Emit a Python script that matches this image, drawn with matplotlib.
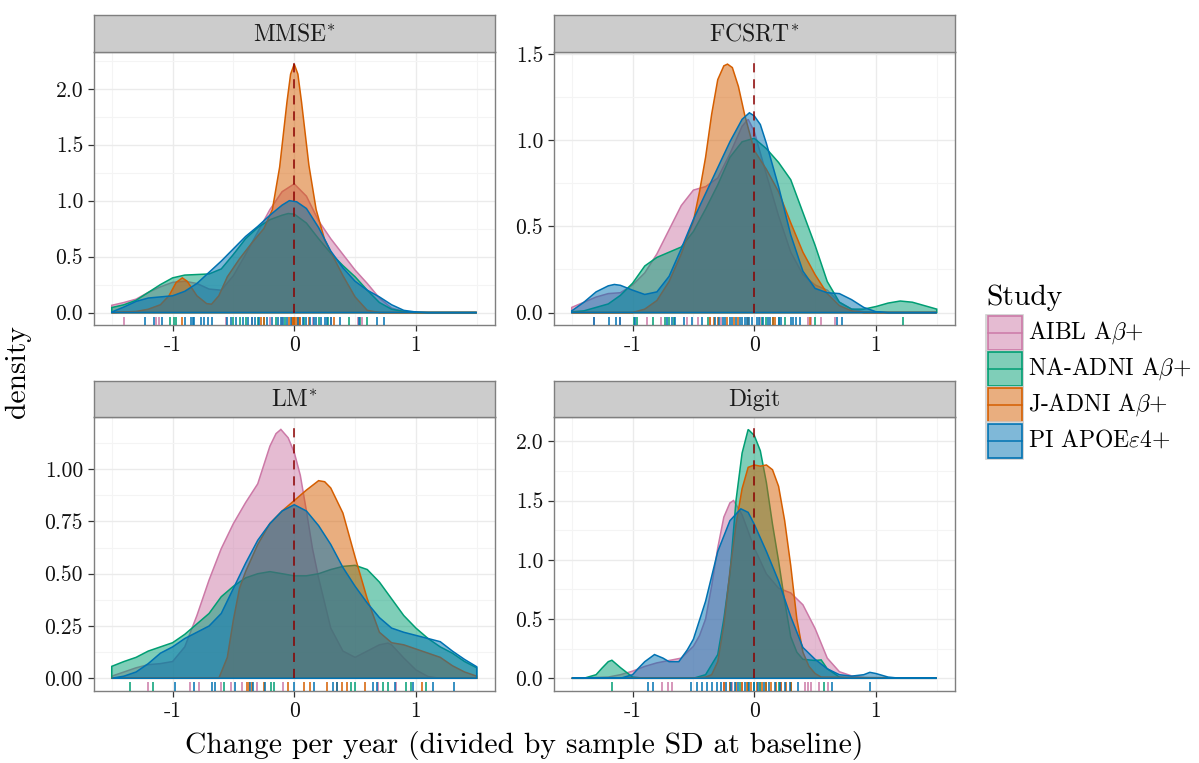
import numpy as np
import matplotlib
matplotlib.use('Agg')
import matplotlib.pyplot as plt
from matplotlib.patches import Rectangle
from matplotlib.lines import Line2D
from matplotlib.ticker import AutoMinorLocator
import matplotlib.transforms as mtransforms

plt.rcParams['font.family'] = 'serif'
plt.rcParams['font.serif'] = ['cmr10']
plt.rcParams['mathtext.fontset'] = 'cm'
plt.rcParams['axes.unicode_minus'] = False
plt.rcParams['axes.formatter.use_mathtext'] = True

# ---------------- data ----------------
studies = ['AIBL A$\\beta$$+$', 'NA-ADNI A$\\beta$$+$', 'J-ADNI A$\\beta$$+$', 'PI APOE$\\varepsilon$4$+$']
colors = ['#CC79A7', '#009E73', '#D55E00', '#0072B2']
panel_titles = ['$\\mathrm{MMSE}^{*}$', '$\\mathrm{FCSRT}^{*}$', '$\\mathrm{LM}^{*}$', 'Digit']
x_ticks = [-1, 0, 1]
x_ticklabels = ['-1', '0', '1']
mmse_yticks = [0.0, 0.5, 1.0, 1.5, 2.0]
fcsrt_yticks = [0.0, 0.5, 1.0, 1.5]
lm_yticks = [0.0, 0.25, 0.5, 0.75, 1.0]
digit_yticks = [0.0, 0.5, 1.0, 1.5, 2.0]
mmse_yticklabels = ['0.0', '0.5', '1.0', '1.5', '2.0']
fcsrt_yticklabels = ['0.0', '0.5', '1.0', '1.5']
lm_yticklabels = ['0.00', '0.25', '0.50', '0.75', '1.00']
digit_yticklabels = ['0.0', '0.5', '1.0', '1.5', '2.0']

# MMSE density curves
mmse_aibl_x = [-1.5,-1.4,-1.3,-1.2,-1.1,-1.0,-0.9,-0.8,-0.7,-0.6,-0.5,-0.4,-0.3,-0.2,-0.1,0.0,0.1,0.2,0.3,0.4,0.5,0.6,0.7,0.8,0.9,1.0,1.5]
mmse_aibl_y = [0.065,0.09,0.12,0.18,0.23,0.27,0.28,0.26,0.21,0.20,0.33,0.52,0.72,0.92,1.08,1.15,1.04,0.82,0.66,0.52,0.38,0.26,0.13,0.04,0.01,0.0,0.0]
mmse_nadni_x = [-1.5,-1.4,-1.3,-1.2,-1.1,-1.0,-0.9,-0.8,-0.7,-0.6,-0.5,-0.4,-0.3,-0.2,-0.1,-0.05,0.0,0.1,0.2,0.3,0.4,0.5,0.6,0.7,0.8,0.9,1.0,1.5]
mmse_nadni_y = [0.045,0.07,0.11,0.18,0.25,0.31,0.335,0.34,0.345,0.39,0.52,0.66,0.76,0.83,0.87,0.885,0.88,0.8,0.66,0.53,0.42,0.32,0.2,0.09,0.03,0.01,0.0,0.0]
mmse_jadni_x = [-1.5,-1.3,-1.2,-1.1,-1.03,-0.97,-0.92,-0.88,-0.8,-0.72,-0.68,-0.62,-0.55,-0.45,-0.35,-0.25,-0.18,-0.12,-0.06,-0.03,0.0,0.03,0.06,0.12,0.18,0.25,0.32,0.4,0.5,0.6,0.7,1.5]
mmse_jadni_y = [0.0,0.01,0.03,0.07,0.15,0.27,0.31,0.28,0.15,0.08,0.075,0.15,0.32,0.48,0.62,0.75,0.92,1.3,1.88,2.13,2.22,2.13,1.88,1.32,0.92,0.65,0.5,0.33,0.14,0.02,0.0,0.0]
mmse_pi_x = [-1.5,-1.4,-1.3,-1.2,-1.1,-1.0,-0.9,-0.8,-0.7,-0.6,-0.5,-0.4,-0.3,-0.2,-0.1,-0.04,0.02,0.1,0.2,0.3,0.4,0.5,0.6,0.7,0.8,0.9,1.0,1.1,1.5]
mmse_pi_y = [0.005,0.05,0.1,0.13,0.14,0.15,0.19,0.26,0.36,0.46,0.57,0.68,0.77,0.87,0.96,1.0,0.99,0.93,0.76,0.55,0.4,0.28,0.2,0.14,0.07,0.02,0.005,0.0,0.0]

# FCSRT density curves
fcsrt_aibl_x = [-1.5,-1.4,-1.3,-1.2,-1.1,-1.0,-0.9,-0.8,-0.7,-0.6,-0.5,-0.4,-0.3,-0.2,-0.1,-0.05,0.0,0.1,0.2,0.3,0.4,0.5,0.6,0.7,0.8,0.9,1.0,1.5]
fcsrt_aibl_y = [0.03,0.06,0.09,0.11,0.115,0.16,0.23,0.34,0.48,0.62,0.71,0.73,0.78,0.92,1.08,1.12,1.05,0.8,0.56,0.35,0.22,0.16,0.13,0.06,0.02,0.005,0.0,0.0]
fcsrt_nadni_x = [-1.5,-1.4,-1.3,-1.2,-1.1,-1.0,-0.9,-0.8,-0.7,-0.6,-0.5,-0.4,-0.3,-0.2,-0.1,0.0,0.1,0.2,0.3,0.4,0.5,0.6,0.7,0.8,0.9,1.0,1.1,1.2,1.3,1.4,1.5]
fcsrt_nadni_y = [0.005,0.01,0.03,0.05,0.1,0.17,0.27,0.32,0.35,0.38,0.47,0.6,0.74,0.9,0.99,1.01,0.95,0.87,0.77,0.58,0.39,0.18,0.06,0.02,0.02,0.035,0.055,0.067,0.06,0.04,0.02]
fcsrt_jadni_x = [-1.5,-1.0,-0.9,-0.8,-0.7,-0.6,-0.55,-0.5,-0.45,-0.4,-0.35,-0.3,-0.25,-0.22,-0.18,-0.13,-0.08,0.0,0.1,0.2,0.3,0.4,0.5,0.6,0.7,0.8,0.9,1.5]
fcsrt_jadni_y = [0.0,0.0,0.02,0.07,0.18,0.34,0.44,0.53,0.7,0.9,1.15,1.35,1.43,1.44,1.42,1.31,1.15,0.94,0.83,0.7,0.52,0.35,0.22,0.11,0.04,0.01,0.0,0.0]
fcsrt_pi_x = [-1.5,-1.4,-1.3,-1.2,-1.15,-1.1,-1.0,-0.9,-0.8,-0.7,-0.6,-0.5,-0.4,-0.3,-0.2,-0.1,-0.04,0.0,0.05,0.1,0.2,0.3,0.4,0.5,0.6,0.7,0.8,0.9,1.0,1.1,1.5]
fcsrt_pi_y = [0.01,0.06,0.12,0.155,0.163,0.158,0.13,0.105,0.12,0.21,0.37,0.54,0.69,0.84,0.99,1.12,1.158,1.14,1.09,0.98,0.73,0.45,0.24,0.14,0.115,0.11,0.075,0.03,0.005,0.0,0.0]

# LM density curves
lm_aibl_x = [-1.5,-1.4,-1.3,-1.2,-1.1,-1.0,-0.9,-0.8,-0.7,-0.6,-0.5,-0.4,-0.3,-0.2,-0.15,-0.11,-0.05,0.0,0.05,0.1,0.15,0.2,0.3,0.4,0.5,0.6,0.7,0.77,0.8,0.9,1.0,1.1,1.2,1.5]
lm_aibl_y = [0.01,0.03,0.05,0.065,0.07,0.08,0.15,0.3,0.47,0.62,0.74,0.84,0.93,1.11,1.17,1.19,1.15,1.08,0.97,0.8,0.62,0.48,0.24,0.13,0.1,0.13,0.16,0.168,0.16,0.097,0.04,0.008,0.0,0.0]
lm_nadni_x = [-1.5,-1.4,-1.3,-1.2,-1.1,-1.0,-0.9,-0.8,-0.7,-0.6,-0.5,-0.4,-0.3,-0.2,-0.1,0.0,0.1,0.2,0.3,0.4,0.5,0.6,0.7,0.8,0.9,1.0,1.1,1.2,1.3,1.4,1.5]
lm_nadni_y = [0.057,0.08,0.1,0.13,0.15,0.17,0.21,0.26,0.31,0.39,0.44,0.48,0.5,0.51,0.5,0.49,0.49,0.5,0.52,0.535,0.54,0.52,0.46,0.38,0.3,0.24,0.19,0.15,0.12,0.08,0.05]
lm_jadni_x = [-1.5,-0.62,-0.55,-0.5,-0.45,-0.4,-0.3,-0.2,-0.1,0.0,0.1,0.2,0.25,0.3,0.4,0.5,0.6,0.7,0.8,0.9,1.0,1.1,1.2,1.3,1.4,1.5]
lm_jadni_y = [0.0,0.0,0.1,0.28,0.43,0.51,0.64,0.74,0.8,0.85,0.9,0.945,0.94,0.91,0.79,0.58,0.38,0.22,0.17,0.16,0.14,0.12,0.1,0.06,0.03,0.01]
lm_pi_x = [-1.5,-1.4,-1.3,-1.2,-1.1,-1.0,-0.9,-0.8,-0.7,-0.6,-0.5,-0.4,-0.3,-0.2,-0.1,0.0,0.1,0.2,0.3,0.4,0.5,0.6,0.7,0.8,0.9,1.0,1.1,1.2,1.3,1.4,1.5]
lm_pi_y = [0.0,0.01,0.03,0.07,0.12,0.15,0.19,0.22,0.25,0.31,0.43,0.55,0.66,0.74,0.8,0.83,0.8,0.73,0.64,0.53,0.44,0.36,0.29,0.24,0.22,0.205,0.19,0.175,0.13,0.09,0.055]

# Digit density curves
digit_aibl_x = [-1.5,-1.2,-1.1,-1.0,-0.9,-0.8,-0.7,-0.6,-0.5,-0.45,-0.4,-0.35,-0.3,-0.25,-0.2,-0.17,-0.1,0.0,0.1,0.2,0.3,0.4,0.5,0.6,0.7,0.8,0.9,1.0,1.5]
digit_aibl_y = [0.0,0.01,0.03,0.06,0.1,0.13,0.15,0.17,0.27,0.36,0.5,0.78,1.1,1.36,1.48,1.5,1.38,1.1,0.88,0.76,0.72,0.62,0.42,0.17,0.055,0.02,0.005,0.0,0.0]
digit_nadni_x = [-1.5,-1.4,-1.3,-1.25,-1.2,-1.17,-1.1,-1.0,-0.9,-0.5,-0.4,-0.3,-0.25,-0.2,-0.15,-0.1,-0.05,0.0,0.05,0.1,0.15,0.2,0.25,0.3,0.35,0.4,0.5,0.55,0.6,0.7,0.8,1.5]
digit_nadni_y = [0.0,0.0,0.03,0.087,0.14,0.152,0.09,0.01,0.0,0.0,0.03,0.2,0.5,0.88,1.5,1.9,2.1,2.05,1.92,1.65,1.3,0.99,0.65,0.35,0.22,0.16,0.15,0.155,0.08,0.01,0.0,0.0]
digit_jadni_x = [-1.5,-0.5,-0.4,-0.35,-0.3,-0.25,-0.2,-0.15,-0.1,-0.05,0.0,0.05,0.1,0.15,0.2,0.25,0.3,0.35,0.4,0.45,0.5,0.55,1.5]
digit_jadni_y = [0.0,0.0,0.01,0.03,0.14,0.45,0.9,1.3,1.6,1.78,1.8,1.79,1.8,1.76,1.62,1.33,0.95,0.5,0.22,0.1,0.04,0.01,0.0]
digit_pi_x = [-1.5,-1.1,-1.0,-0.95,-0.9,-0.82,-0.75,-0.7,-0.62,-0.55,-0.5,-0.4,-0.3,-0.2,-0.11,-0.05,0.0,0.1,0.2,0.3,0.4,0.5,0.6,0.7,0.8,0.9,0.95,1.0,1.1,1.2,1.5]
digit_pi_y = [0.0,0.0,0.03,0.087,0.14,0.2,0.17,0.14,0.14,0.24,0.33,0.65,1.07,1.33,1.43,1.4,1.3,1.07,0.82,0.52,0.26,0.16,0.08,0.03,0.018,0.03,0.05,0.04,0.01,0.0,0.0]

# rug data (observed changes per subject)
mmse_aibl_rug = [-1.40,-1.14,-1.11,-0.56,-0.35,-0.2,-0.1,0.05,0.15,0.3,0.52,0.56]
mmse_nadni_rug = [-1.02,-0.99,-0.97,-0.5,-0.45,-0.4,-0.3,-0.25,-0.15,-0.08,0.0,0.08,0.2,0.28,0.45,0.54,0.6]
mmse_jadni_rug = [-0.92,-0.27,-0.25,-0.04,-0.02,-0.01,0.0,0.01,0.02,0.04,0.05,0.12,0.33]
mmse_pi_rug = [-1.23,-1.15,-1.09,-0.9,-0.85,-0.83,-0.82,-0.77,-0.74,-0.71,-0.68,-0.55,-0.52,-0.48,-0.42,-0.38,-0.35,-0.32,-0.29,-0.22,-0.18,-0.13,-0.11,-0.09,-0.06,-0.03,0.03,0.07,0.1,0.13,0.16,0.18,0.22,0.25,0.27,0.3,0.38,0.53,0.68,0.74]
fcsrt_aibl_rug = [-1.32,-1.10,-0.88,-0.77,-0.55,-0.46,-0.36,-0.27,0.05,0.44,0.47,0.55,0.66]
fcsrt_nadni_rug = [-0.99,-0.96,-0.83,-0.73,-0.7,-0.66,-0.38,0.06,0.1,0.15,0.2,0.25,0.5,1.22]
fcsrt_jadni_rug = [-0.36,-0.33,-0.3,-0.22,-0.17,-0.13,-0.05,0.15,0.17,0.46]
fcsrt_pi_rug = [-1.32,-1.19,-1.14,-1.10,-0.98,-0.72,-0.68,-0.65,-0.58,-0.51,-0.43,-0.32,-0.29,-0.26,-0.24,-0.2,-0.18,-0.15,-0.12,-0.1,-0.08,-0.06,-0.04,-0.02,0.02,0.04,0.07,0.11,0.13,0.2,0.22,0.3,0.32,0.34,0.38,0.68,0.72]
lm_aibl_rug = [-1.2,-0.86,-0.78,-0.6,-0.52,-0.43,-0.31,-0.09,0.69,0.84]
lm_nadni_rug = [-1.35,-1.16,-0.58,-0.19,-0.17,0.47,0.5,0.73,0.77,0.92,0.96,1.08]
lm_jadni_rug = [-0.39,-0.37,-0.35,-0.25,-0.05,0.08,0.13,0.27,0.35,0.39,0.43,0.58,1.05]
lm_pi_rug = [-0.98,-0.82,-0.68,-0.65,-0.49,-0.36,-0.34,-0.24,0.0,0.16,0.32,0.35,0.65,0.68,0.83,0.98,1.14,1.31]
digit_aibl_rug = [-0.76,-0.71,-0.68,-0.25,-0.18,-0.1,0.05,0.22,0.3,0.42,0.44,0.47,0.53,0.61]
digit_nadni_rug = [-1.17,-0.2,-0.12,-0.05,0.0,0.05,0.1,0.2,0.3,0.57]
digit_jadni_rug = [-0.25,-0.2,-0.15,-0.1,-0.06,-0.03,0.02,0.06,0.1,0.14,0.18,0.22,0.26,0.3]
digit_pi_rug = [-0.87,-0.83,-0.52,-0.47,-0.43,-0.39,-0.35,-0.31,-0.27,-0.23,-0.19,-0.16,-0.13,-0.08,-0.04,0.0,0.03,0.08,0.12,0.17,0.21,0.25,0.29,0.36,0.64,0.95]

panels = [
    dict(title=panel_titles[0], yticks=mmse_yticks, yticklabels=mmse_yticklabels,
         curves=[(mmse_aibl_x, mmse_aibl_y), (mmse_nadni_x, mmse_nadni_y), (mmse_jadni_x, mmse_jadni_y), (mmse_pi_x, mmse_pi_y)],
         rugs=[mmse_aibl_rug, mmse_nadni_rug, mmse_jadni_rug, mmse_pi_rug]),
    dict(title=panel_titles[1], yticks=fcsrt_yticks, yticklabels=fcsrt_yticklabels,
         curves=[(fcsrt_aibl_x, fcsrt_aibl_y), (fcsrt_nadni_x, fcsrt_nadni_y), (fcsrt_jadni_x, fcsrt_jadni_y), (fcsrt_pi_x, fcsrt_pi_y)],
         rugs=[fcsrt_aibl_rug, fcsrt_nadni_rug, fcsrt_jadni_rug, fcsrt_pi_rug]),
    dict(title=panel_titles[2], yticks=lm_yticks, yticklabels=lm_yticklabels,
         curves=[(lm_aibl_x, lm_aibl_y), (lm_nadni_x, lm_nadni_y), (lm_jadni_x, lm_jadni_y), (lm_pi_x, lm_pi_y)],
         rugs=[lm_aibl_rug, lm_nadni_rug, lm_jadni_rug, lm_pi_rug]),
    dict(title=panel_titles[3], yticks=digit_yticks, yticklabels=digit_yticklabels,
         curves=[(digit_aibl_x, digit_aibl_y), (digit_nadni_x, digit_nadni_y), (digit_jadni_x, digit_jadni_y), (digit_pi_x, digit_pi_y)],
         rugs=[digit_aibl_rug, digit_nadni_rug, digit_jadni_rug, digit_pi_rug]),
]

# ---------------- layout ----------------
W, H = 1199, 763
fig = plt.figure(figsize=(W / 100, H / 100), dpi=100)

def fbox(x0, y0, x1, y1):
    """pixel box (top-left origin) -> figure fraction [l, b, w, h]"""
    return [x0 / W, (H - y1) / H, (x1 - x0) / W, (y1 - y0) / H]

panel_px = [(93.5, 51.7, 495, 325), (553.5, 51.7, 955, 325),
            (93.5, 417, 495, 690.7), (553.5, 417, 955, 690.7)]
strip_h = 36.5

TICK_FS = 15.5
STRIP_FS = 17
border_col = '#7F7F7F'
grid_col = '#EBEBEB'

for p, box in zip(panels, panel_px):
    ax = fig.add_axes(fbox(*box))
    ymax = max(max(c[1]) for c in p['curves'])
    ax.set_xlim(-1.65, 1.65)
    ax.set_ylim(-0.05 * ymax, 1.05 * ymax)
    ax.set_facecolor('white')
    ax.set_xticks(x_ticks, labels=x_ticklabels)
    ax.set_yticks(p['yticks'], labels=p['yticklabels'])
    ax.xaxis.set_minor_locator(AutoMinorLocator(2))
    ax.yaxis.set_minor_locator(AutoMinorLocator(2))
    ax.grid(which='major', color=grid_col, lw=1.0, zorder=0)
    ax.grid(which='minor', color='#F4F4F4', lw=0.8, zorder=0)
    ax.set_axisbelow(True)
    ax.tick_params(which='major', length=4.5, width=0.9, color='#333333',
                   labelsize=TICK_FS, labelcolor='#111111', pad=3)
    ax.tick_params(which='minor', length=0)
    for s in ax.spines.values():
        s.set_color(border_col)
        s.set_linewidth(1.0)
    for (cx, cy), col in zip(p['curves'], colors):
        px = np.r_[cx[0], cx, cx[-1]]
        py = np.r_[0.0, cy, 0.0]
        ax.fill(px, py, facecolor=matplotlib.colors.to_rgba(col, 0.5),
                edgecolor=col, lw=1.1, zorder=2)
    ax.axvline(0, ymin=0.045, ymax=0.975, color='#8B0000', lw=1.1,
               dashes=(6, 4.5), zorder=3)
    trans = mtransforms.blended_transform_factory(ax.transData, ax.transAxes)
    for r, col in zip(p['rugs'], colors):
        ax.vlines(r, 0, 0.03, transform=trans, colors=col, lw=1.1, zorder=3)
    # strip
    sx0, sy0, sx1, sy1 = box[0], box[1] - strip_h, box[2], box[1]
    sax = fig.add_axes(fbox(sx0, sy0, sx1, sy1))
    sax.set_facecolor('#CCCCCC')
    sax.set_xticks([]); sax.set_yticks([])
    for s in sax.spines.values():
        s.set_color(border_col)
        s.set_linewidth(1.0)
    sax.text(0.5, 0.47, p['title'], transform=sax.transAxes, ha='center',
             va='center', fontsize=STRIP_FS, color='#1A1A1A')

# axis titles
fig.text(524 / W, 1 - 745 / H, 'Change per year (divided by sample SD at baseline)',
         ha='center', va='center', fontsize=21.3)
fig.text(18 / W, 1 - 371 / H, 'density', ha='center', va='center',
         rotation=90, fontsize=21.3)

# legend (drawn manually)
fig.text(986 / W, 1 - 298 / H, 'Study', ha='left', va='center', fontsize=21.3)
key_x0, key_y0, key_w, key_h, key_step = 987.5, 316, 34, 33.5, 36
for i, (lab, col) in enumerate(zip(studies, colors)):
    y0 = key_y0 + i * key_step
    l, b, w, h = fbox(key_x0, y0, key_x0 + key_w, y0 + key_h)
    fig.add_artist(Rectangle((l - 1.5 / W, b - 1.5 / H), w + 3 / W, h + 3 / H,
                             transform=fig.transFigure, facecolor='white',
                             edgecolor='#D0D0D0', lw=1.2))
    fig.add_artist(Rectangle((l, b), w, h, transform=fig.transFigure,
                             facecolor=matplotlib.colors.to_rgba(col, 0.5),
                             edgecolor=col, lw=1.2))
    fig.add_artist(Line2D([l, l + w], [b + h / 2, b + h / 2],
                          transform=fig.transFigure, color=col, lw=1.1))
    fig.text(1028 / W, b + h / 2, lab, ha='left', va='center', fontsize=17)

fig.savefig('out.png', dpi=100, facecolor='white')
